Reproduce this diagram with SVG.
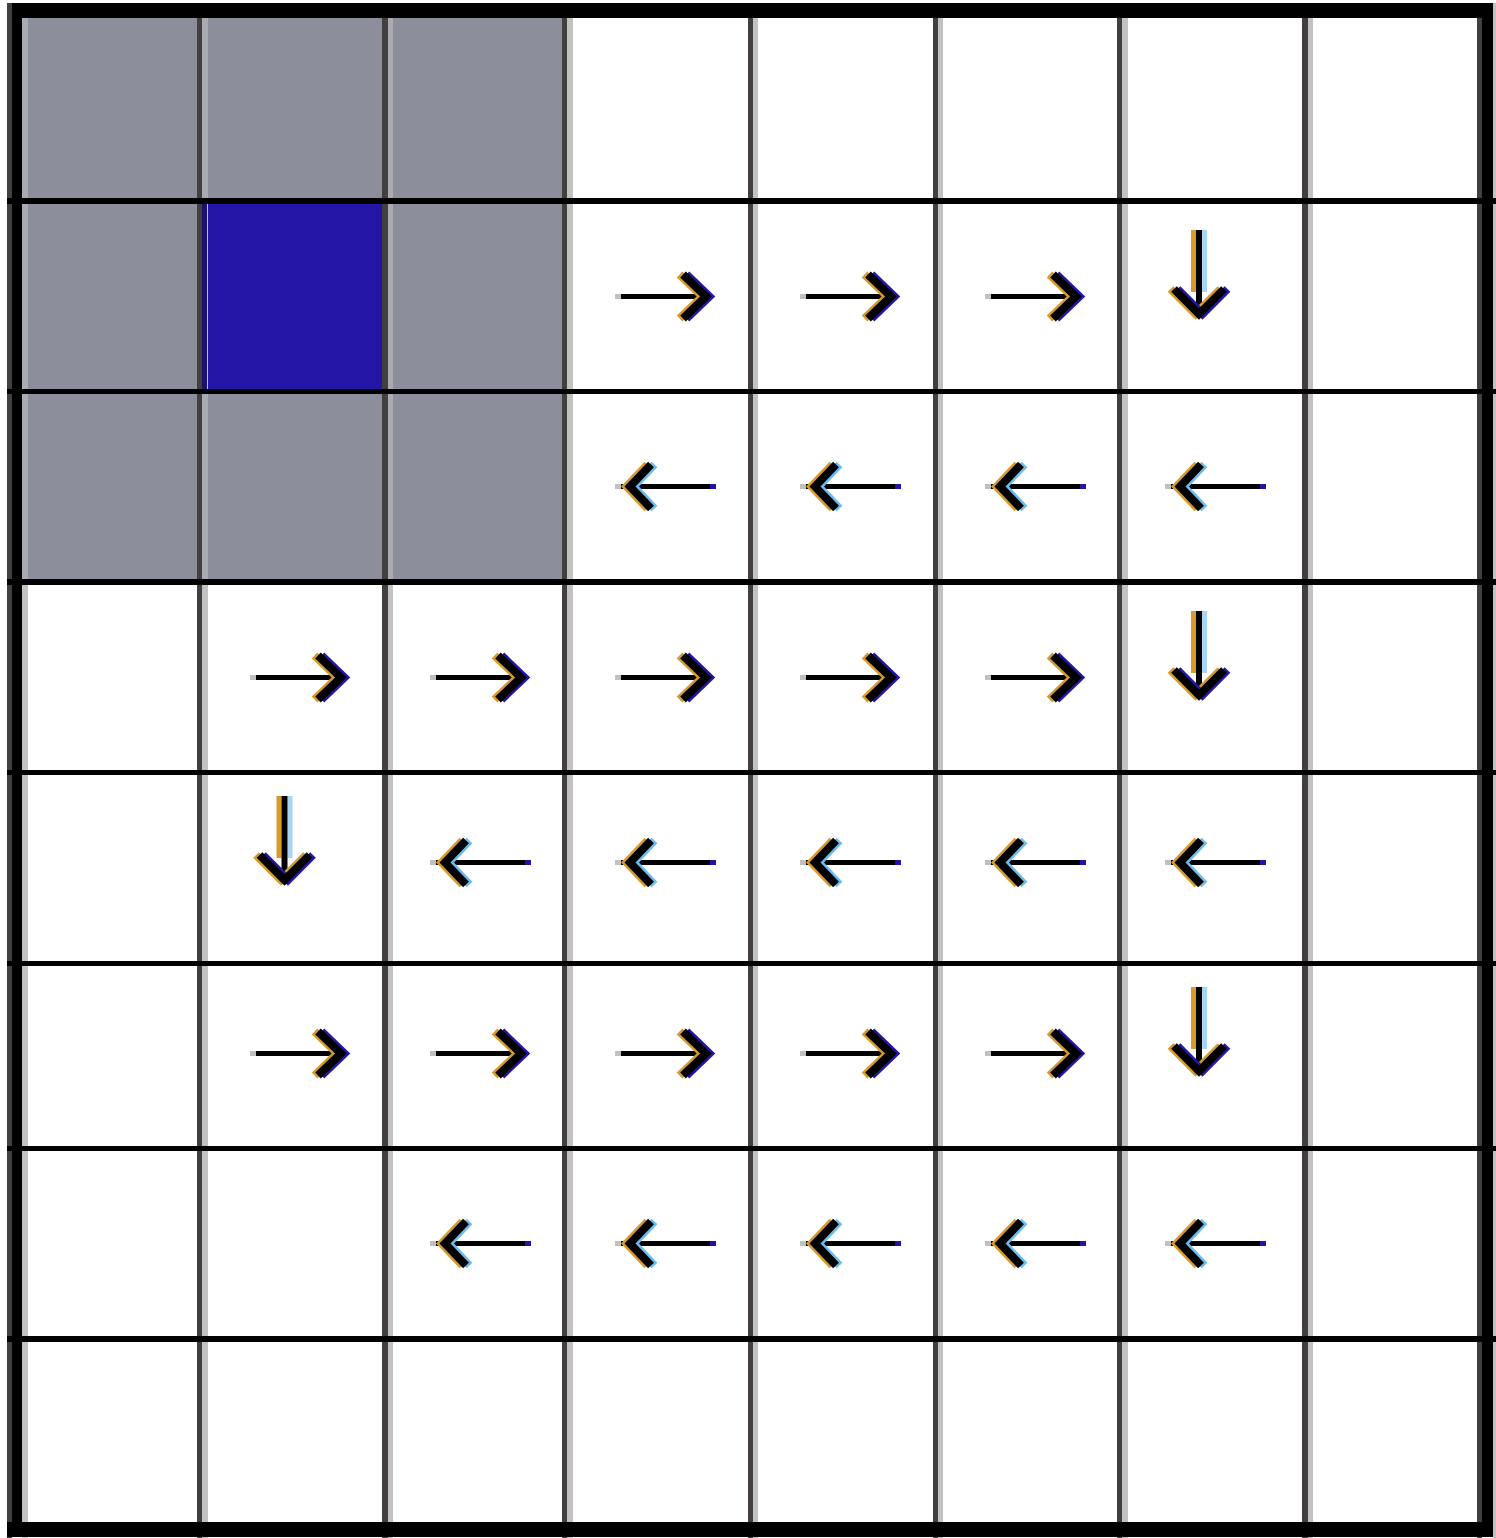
<svg xmlns="http://www.w3.org/2000/svg" width="1496" height="1538" viewBox="0 0 1496 1538">
<style>
.dk{fill:#433f3f}
.lt{fill:#c2c2c2}
.lg{fill:#a9aab2}
.hl{fill:#000}
.ch{fill:none;stroke-width:8;stroke-linejoin:miter;stroke-miterlimit:10}
.k{stroke:#000}
.o{stroke:#d89a2a}
.b{stroke:#2416a8}
.lb{stroke:#6cbcee}
</style>
<defs>
<g id="ar">
<rect x="0" y="-2.5" width="6" height="5" fill="#c0c0c0"/>
<rect x="6" y="-2.5" width="86" height="5" fill="#000"/>
<polyline class="ch o" points="64.5,-22 87.5,0 64.5,22"/>
<polyline class="ch b" points="71.5,-22 94.5,0 71.5,22"/>
<polyline class="ch k" points="68,-22 91,0 68,22"/>
</g>
<g id="al">
<rect x="0" y="-2.5" width="6" height="5" fill="#c0c0c0"/>
<rect x="6" y="-2.5" width="89" height="5" fill="#000"/>
<rect x="95" y="-2.5" width="6" height="5" fill="#2214a6"/>
<polyline class="ch o" points="32.5,-22 11.5,0 32.5,22"/>
<polyline class="ch lb" points="39.5,-22 18.5,0 39.5,22"/>
<polyline class="ch k" points="36,-22 15,0 36,22"/>
</g>
<g id="ad">
<rect x="-8" y="0" width="5" height="62" fill="#d89a2a"/>
<rect x="3" y="0" width="5" height="62" fill="#a6d6f4"/>
<rect x="-3" y="0" width="6" height="84" fill="#000"/>
<polyline class="ch o" points="-28.5,59 -3.5,84 21.5,59"/>
<polyline class="ch b" points="-21.5,59 3.5,84 28.5,59"/>
<polyline class="ch k" points="-25,59 0,84 25,59"/>
</g>
</defs>
<rect width="1496" height="1538" fill="#fff"/>
<g id="cells">
<rect id="gray-region" x="22" y="18" width="540" height="561" fill="#8c8e9c"/>
<rect id="blue-cell" x="202" y="204" width="180" height="185" fill="#2315a5"/>
</g>
<g id="grid">
<rect class="dk" x="7" y="3" width="5" height="1535"/>
<rect class="lt" x="22" y="3" width="6" height="1535"/>
<rect class="dk" x="197" y="18" width="5" height="1520"/><rect class="lt" x="202" y="18" width="6" height="1520"/>
<rect class="dk" x="382" y="18" width="6" height="1520"/><rect class="lt" x="388" y="18" width="5" height="1520"/>
<rect class="dk" x="562" y="18" width="5" height="1520"/><rect class="lt" x="567" y="18" width="6" height="1520"/>
<rect class="dk" x="748" y="18" width="5" height="1520"/><rect class="lt" x="753" y="18" width="5" height="1520"/>
<rect class="dk" x="933" y="18" width="5" height="1520"/><rect class="lt" x="938" y="18" width="5" height="1520"/>
<rect class="dk" x="1117" y="18" width="5" height="1520"/><rect class="lt" x="1122" y="18" width="6" height="1520"/>
<rect class="dk" x="1302" y="18" width="6" height="1520"/><rect class="lt" x="1308" y="18" width="5" height="1520"/>
<rect class="dk" x="1477" y="3" width="5" height="1535"/>
<rect class="lt" x="1493" y="3" width="3" height="1535"/>
<rect class="lg" x="22" y="18" width="6" height="561"/>
<rect class="lg" x="202" y="18" width="6" height="186"/>
<rect class="lg" x="202" y="389" width="6" height="190"/>
<rect fill="#1a1070" x="202" y="204" width="5" height="185"/>
<rect class="lg" x="388" y="18" width="5" height="561"/>
<rect class="hl" x="7" y="198" width="1489" height="6"/>
<rect class="hl" x="7" y="389" width="1489" height="5"/>
<rect class="hl" x="7" y="579" width="1489" height="6"/>
<rect class="hl" x="7" y="770" width="1489" height="5"/>
<rect class="hl" x="7" y="961" width="1489" height="5"/>
<rect class="hl" x="7" y="1146" width="1489" height="5"/>
<rect class="hl" x="7" y="1336" width="1489" height="6"/>
<rect class="hl" x="12" y="3" width="1481" height="15"/>
<rect class="hl" x="7" y="1522" width="1486" height="15"/>
<rect class="hl" x="12" y="3" width="10" height="1534"/>
<rect class="hl" x="1482" y="3" width="11" height="1534"/>
</g>
<g id="arrows">
<use href="#ar" x="615" y="296.5"/><use href="#ar" x="800" y="296.5"/><use href="#ar" x="985" y="296.5"/>
<use href="#ad" x="1199" y="230"/>
<use href="#al" x="615" y="486.5"/><use href="#al" x="800" y="486.5"/><use href="#al" x="985" y="486.5"/><use href="#al" x="1165" y="486.5"/>
<use href="#ar" x="250" y="677.5"/><use href="#ar" x="430" y="677.5"/><use href="#ar" x="615" y="677.5"/><use href="#ar" x="800" y="677.5"/><use href="#ar" x="985" y="677.5"/>
<use href="#ad" x="1199" y="611"/>
<use href="#ad" x="284.5" y="796"/>
<use href="#al" x="430" y="862.5"/><use href="#al" x="615" y="862.5"/><use href="#al" x="800" y="862.5"/><use href="#al" x="985" y="862.5"/><use href="#al" x="1165" y="862.5"/>
<use href="#ar" x="250" y="1053.5"/><use href="#ar" x="430" y="1053.5"/><use href="#ar" x="615" y="1053.5"/><use href="#ar" x="800" y="1053.5"/><use href="#ar" x="985" y="1053.5"/>
<use href="#ad" x="1199" y="987"/>
<use href="#al" x="430" y="1243.5"/><use href="#al" x="615" y="1243.5"/><use href="#al" x="800" y="1243.5"/><use href="#al" x="985" y="1243.5"/><use href="#al" x="1165" y="1243.5"/>
</g>
</svg>
